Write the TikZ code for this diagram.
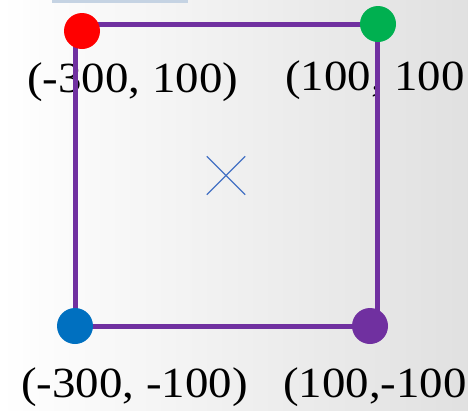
\documentclass[tikz,border=0pt]{standalone}
\usepackage{fontspec}
\setmainfont[FakeStretch=1.09]{Liberation Serif}
\definecolor{edgepurple}{HTML}{7030A0}
\definecolor{dotred}{HTML}{FF0000}
\definecolor{dotgreen}{HTML}{00B050}
\definecolor{dotblue}{HTML}{0070C0}
\definecolor{crossblue}{HTML}{4472C4}
\definecolor{tabblue}{HTML}{C5D3E3}

\begin{document}
\begin{tikzpicture}[x=1pt, y=-1pt,
    dot/.style={circle, minimum size=36pt, inner sep=0pt},
    coordtext/.style={anchor=base west, inner sep=0pt, font=\fontsize{43}{50}\selectfont},
    edge/.style={line width=5pt, draw=edgepurple}]
  \useasboundingbox (0,0) rectangle (468,410);
  \shade[left color=white, middle color=black!3, right color=black!12] (0,0) rectangle (468,410);
  \fill[tabblue] (52,0) rectangle (188,2.5);
  % corner labels
  \node[coordtext] (ltop) at (27,92) {(-300, 100)};
  \node[coordtext] (rtop) at (285,90) {(100, 100};
  \node[coordtext] (lbot) at (21,397) {(-300, -100)};
  \node[coordtext] (rbot) at (283,397) {(100,-100};
  % square
  \coordinate (nw) at (75,24);
  \coordinate (ne) at (377,24);
  \coordinate (se) at (377,326);
  \coordinate (sw) at (75,326);
  \draw[edge] (nw) -- (ne) -- (se) -- (sw) -- cycle;
  \node[dot, fill=dotred] (red) at (82,31) {};
  \node[dot, fill=dotgreen] (green) at (378,24) {};
  \node[dot, fill=dotblue] (blue) at (75,326) {};
  \node[dot, fill=edgepurple] (purple) at (370,326) {};
  % centre mark
  \node[minimum size=38pt, inner sep=0pt] (centre) at (226,175.5) {};
  \draw[crossblue, line width=1.2pt] (centre.north west) -- (centre.south east)
    (centre.north east) -- (centre.south west);
\end{tikzpicture}
\end{document}
